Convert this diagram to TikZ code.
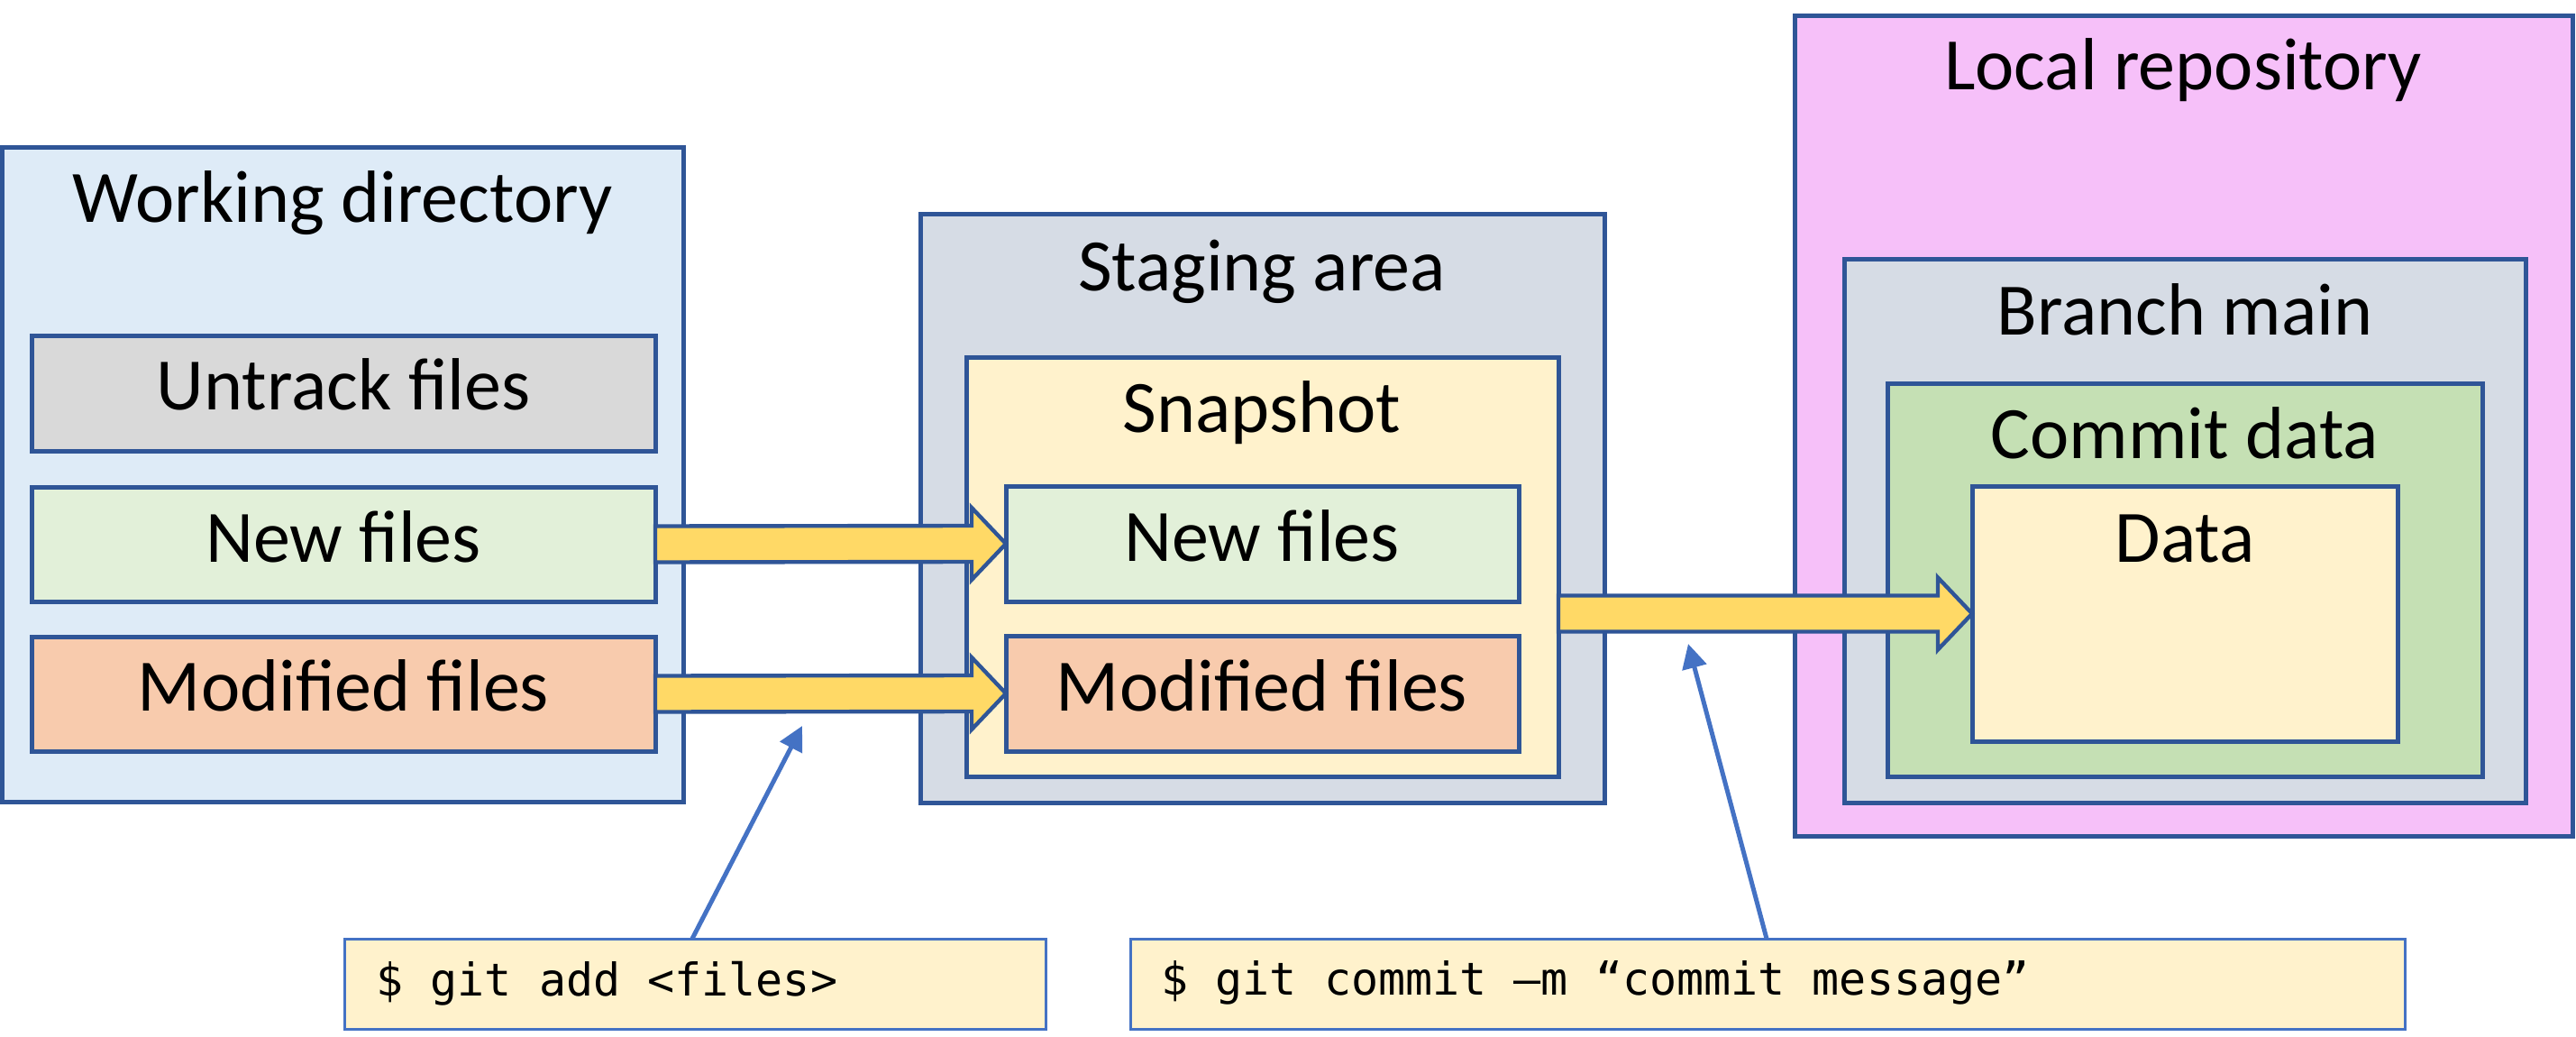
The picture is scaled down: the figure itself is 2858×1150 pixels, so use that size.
\documentclass[tikz,border=0pt]{standalone}
\usepackage{fontspec}
\setmainfont{Carlito}
\newfontfamily\cmdfont{DejaVu Sans Mono}
\usetikzlibrary{fit,calc,arrows.meta}
\definecolor{bord}{HTML}{2F5597}
\definecolor{cmdblue}{HTML}{4472C4}
\definecolor{cmdfill}{HTML}{FFF2CC}
\definecolor{wdfill}{HTML}{DEEBF7}
\definecolor{grayfill}{HTML}{D9D9D9}
\definecolor{newfill}{HTML}{E2F0D9}
\definecolor{modfill}{HTML}{F8CBAD}
\definecolor{stagefill}{HTML}{D6DCE5}
\definecolor{snapfill}{HTML}{FFF2CC}
\definecolor{pinkfill}{HTML}{F6C0F9}
\definecolor{greenfill}{HTML}{C5E0B4}
\definecolor{arrowy}{HTML}{FFD966}
\begin{document}
\begin{tikzpicture}[x=0.5pt,y=-0.5pt,
  box/.style={draw=bord, line width=2.5pt, inner sep=0pt, outer sep=0pt},
  lbl/.style={anchor=base, inner sep=0pt, font=\fontsize{41pt}{49pt}\selectfont},
  cmdbox/.style={draw=cmdblue, fill=cmdfill, line width=1.5pt, inner sep=0pt, outer sep=0pt},
  cmdtxt/.style={anchor=base west, inner sep=0pt, font=\cmdfont\fontsize{25pt}{30pt}\selectfont},
  yarrow/.style={draw=bord, fill=arrowy, line width=2.2pt, line join=miter},
  pointer/.style={draw=cmdblue, line width=2.5pt, -{Triangle[length=13.5pt,width=13.5pt]}}]
\useasboundingbox (0,0) rectangle (2858,1150);

% Working directory
\node[box, fill=wdfill, fit={(2,164) (758,889)}] (wd) {};
\node[lbl] (wdt) at (380,247) {Working directory};
\node[box, fill=grayfill, fit={(35,372) (727,500)}] (untr) {};
\node[lbl] (untrt) at (381,454) {Untrack files};
\node[box, fill=newfill, fit={(35,540) (727,667)}] (neww) {};
\node[lbl] (newwt) at (381,623) {New files};
\node[box, fill=modfill, fit={(35,706) (727,833)}] (modw) {};
\node[lbl] (modwt) at (381,788) {Modified files};

% Staging area
\node[box, fill=stagefill, fit={(1021,238) (1780,890)}] (stage) {};
\node[lbl] (staget) at (1400,322) {Staging area};
\node[box, fill=snapfill, fit={(1072,396) (1729,861)}] (snap) {};
\node[lbl] (snapt) at (1400,479) {Snapshot};
\node[box, fill=newfill, fit={(1116,539) (1685,667)}] (news) {};
\node[lbl] (newst) at (1400,622) {New files};
\node[box, fill=modfill, fit={(1116,705) (1685,833)}] (mods) {};
\node[lbl] (modst) at (1400,788) {Modified files};

% Local repository
\node[box, fill=pinkfill, fit={(1991,18) (2854,927)}] (local) {};
\node[lbl] (localt) at (2422,100) {Local repository};
\node[box, fill=stagefill, fit={(2046,288) (2802,890)}] (branch) {};
\node[lbl] (brancht) at (2424,371) {Branch main};
\node[box, fill=greenfill, fit={(2094,425) (2754,861)}] (commitd) {};
\node[lbl] (commitdt) at (2424,508) {Commit data};
\node[box, fill=snapfill, fit={(2188,539) (2660,822)}] (data) {};
\node[lbl] (datat) at (2424,623) {Data};

% Block arrows
\draw[yarrow] ($(neww.east)+(0,-20)$) -- ($(news.west)+(-38,-20)$) -- ($(news.west)+(-38,-40)$)
  -- (news.west) -- ($(news.west)+(-38,40)$) -- ($(news.west)+(-38,20)$) -- ($(neww.east)+(0,20)$) -- cycle;
\draw[yarrow] ($(modw.east)+(0,-20)$) -- ($(mods.west)+(-38,-20)$) -- ($(mods.west)+(-38,-40)$)
  -- (mods.west) -- ($(mods.west)+(-38,40)$) -- ($(mods.west)+(-38,20)$) -- ($(modw.east)+(0,20)$) -- cycle;
\draw[yarrow] ($(snap.east |- data.west)+(0,-20)$) -- ($(data.west)+(-38,-20)$) -- ($(data.west)+(-38,-40)$)
  -- (data.west) -- ($(data.west)+(-38,40)$) -- ($(data.west)+(-38,20)$) -- ($(snap.east |- data.west)+(0,20)$) -- cycle;

% Command boxes
\node[cmdbox, fit={(382,1041) (1160,1141)}] (cmd1) {};
\node[cmdtxt] (cmd1t) at (417,1104) {\$ git add <files>};
\node[cmdbox, fit={(1254,1041) (2668,1141)}] (cmd2) {};
\node[cmdtxt] (cmd2t) at (1288,1103) {\$ git commit –m “commit message”};

% Pointers
\coordinate (p1) at (890,805);
\coordinate (p2) at (1873,714);
\draw[pointer] ([xshift=193pt]cmd1.north west) -- (p1);
\draw[pointer] ([xshift=353pt]cmd2.north west) -- (p2);
\end{tikzpicture}
\end{document}
